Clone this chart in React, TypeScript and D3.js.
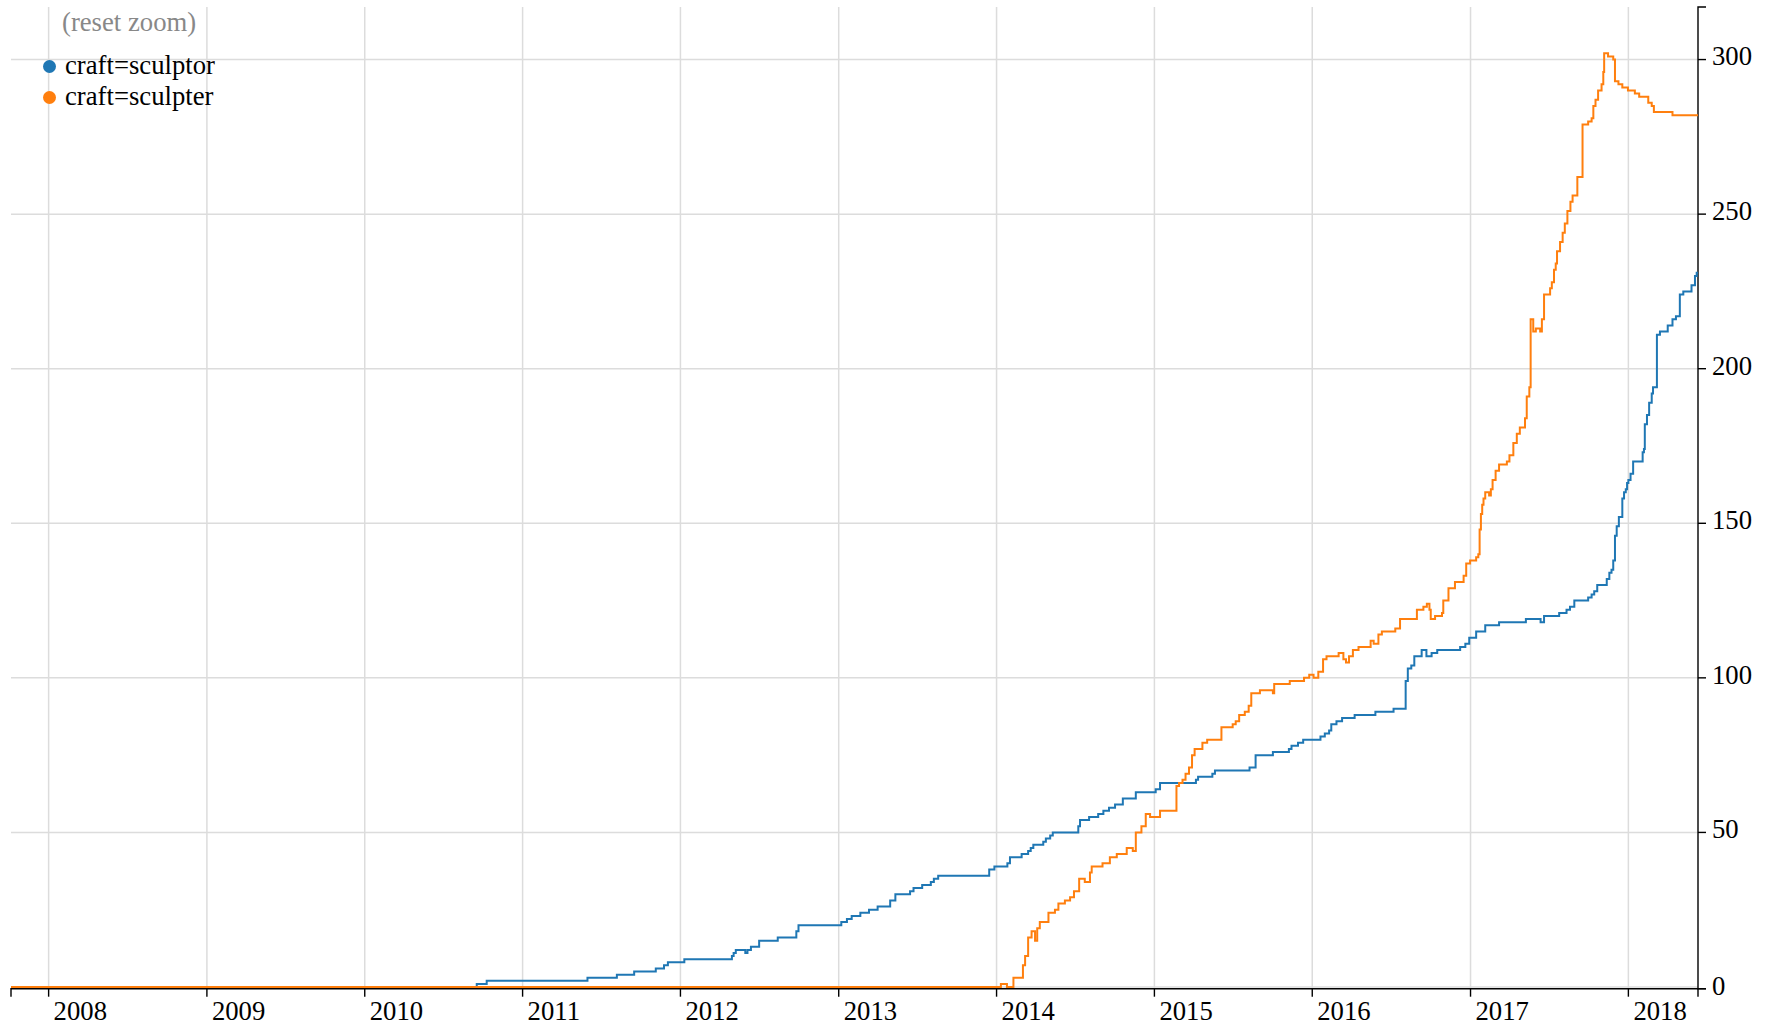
import React from 'react';
import * as d3 from 'd3';

const sculptorDates = [
  '2007-10-06', '2010-09-17', '2010-10-10', '2011-05-31', '2011-08-07', '2011-09-16', '2011-11-05', '2011-11-24',
  '2011-12-03', '2012-01-10', '2012-04-29', '2012-05-03', '2012-05-08', '2012-05-30', '2012-06-04', '2012-06-12',
  '2012-07-01', '2012-08-13', '2012-09-25', '2012-09-30', '2013-01-07', '2013-01-20', '2013-01-31', '2013-02-20',
  '2013-03-12', '2013-04-01', '2013-04-30', '2013-05-12', '2013-06-15', '2013-06-23', '2013-07-13', '2013-08-02',
  '2013-08-09', '2013-08-19', '2013-12-15', '2013-12-27', '2014-01-26', '2014-02-01', '2014-02-28', '2014-03-15',
  '2014-03-21', '2014-03-27', '2014-04-19', '2014-04-25', '2014-05-05', '2014-05-11', '2014-07-09', '2014-07-13',
  '2014-08-03', '2014-08-24', '2014-09-05', '2014-09-18', '2014-10-02', '2014-10-20', '2014-11-19', '2015-01-04',
  '2015-01-14', '2015-04-07', '2015-04-12', '2015-05-15', '2015-05-21', '2015-08-09', '2015-08-23', '2015-10-02',
  '2015-11-08', '2015-11-14', '2015-11-29', '2015-12-11', '2016-01-20', '2016-01-30', '2016-02-09', '2016-02-14',
  '2016-02-26', '2016-03-10', '2016-04-08', '2016-05-26', '2016-07-07', '2016-08-04', '2016-08-09', '2016-08-17',
  '2016-08-24', '2016-09-10', '2016-09-21', '2016-10-03', '2016-10-16', '2016-12-08', '2016-12-20', '2016-12-29',
  '2017-01-14', '2017-02-04', '2017-03-08', '2017-05-09', '2017-06-12', '2017-06-20', '2017-07-25', '2017-08-11',
  '2017-08-19', '2017-08-29', '2017-09-30', '2017-10-08', '2017-10-14', '2017-10-21', '2017-11-12', '2017-11-18',
  '2017-11-23', '2017-11-27', '2017-12-01', '2017-12-05', '2017-12-10', '2017-12-18', '2017-12-22', '2017-12-26',
  '2017-12-29', '2018-01-01', '2018-01-06', '2018-01-12', '2018-02-03', '2018-02-06', '2018-02-08', '2018-02-13',
  '2018-02-18', '2018-02-24', '2018-02-27', '2018-03-08', '2018-03-15', '2018-04-02', '2018-04-13', '2018-04-21',
  '2018-04-30', '2018-05-08', '2018-05-27', '2018-06-04', '2018-06-08', '2018-06-11',
];
const sculptorValues = [
  0, 1, 2, 3, 4, 5, 6, 7,
  8, 9, 10, 11, 12, 11, 12, 13,
  15, 16, 18, 20, 21, 22, 23, 24,
  25, 26, 28, 30, 31, 32, 33, 34,
  35, 36, 38, 39, 40, 42, 43, 44,
  45, 46, 47, 48, 49, 50, 52, 54,
  55, 56, 57, 58, 59, 61, 63, 64,
  66, 67, 68, 69, 70, 71, 75, 76,
  77, 78, 79, 80, 81, 82, 83, 85,
  86, 87, 88, 89, 90, 99, 103, 104,
  107, 109, 107, 108, 109, 110, 111, 113,
  115, 117, 118, 119, 118, 120, 121, 122,
  123, 125, 126, 127, 128, 130, 132, 134,
  135, 138, 146, 149, 152, 158, 160, 161,
  163, 164, 166, 170, 173, 174, 182, 185,
  189, 192, 194, 211, 212, 214, 216, 217,
  224, 225, 227, 230, 231, 231,
];

const sculpterDates = [
  '2007-10-06', '2014-01-11', '2014-01-25', '2014-02-09', '2014-03-03', '2014-03-08', '2014-03-15', '2014-03-23',
  '2014-03-31', '2014-04-05', '2014-04-11', '2014-05-01', '2014-05-16', '2014-05-24', '2014-06-08', '2014-06-20',
  '2014-06-29', '2014-07-11', '2014-07-24', '2014-08-05', '2014-08-09', '2014-09-03', '2014-09-20', '2014-10-06',
  '2014-10-29', '2014-11-12', '2014-11-19', '2014-12-02', '2014-12-12', '2014-12-22', '2015-01-14', '2015-02-21',
  '2015-02-27', '2015-03-07', '2015-03-14', '2015-03-22', '2015-03-29', '2015-04-04', '2015-04-22', '2015-05-03',
  '2015-06-05', '2015-07-01', '2015-07-08', '2015-07-16', '2015-07-29', '2015-08-07', '2015-08-13', '2015-09-02',
  '2015-10-02', '2015-10-05', '2015-11-10', '2015-12-13', '2015-12-25', '2016-01-04', '2016-01-15', '2016-01-26',
  '2016-02-03', '2016-03-02', '2016-03-13', '2016-03-19', '2016-03-26', '2016-04-04', '2016-04-17', '2016-05-15',
  '2016-05-22', '2016-06-02', '2016-06-10', '2016-07-11', '2016-07-22', '2016-08-30', '2016-09-14', '2016-09-22',
  '2016-09-28', '2016-10-01', '2016-10-11', '2016-10-27', '2016-10-30', '2016-11-11', '2016-11-26', '2016-12-16',
  '2016-12-22', '2016-12-31', '2017-01-14', '2017-01-19', '2017-01-22', '2017-01-25', '2017-01-28', '2017-01-31',
  '2017-02-04', '2017-02-13', '2017-02-17', '2017-02-21', '2017-02-28', '2017-03-08', '2017-03-26', '2017-04-01',
  '2017-04-10', '2017-04-18', '2017-04-25', '2017-05-07', '2017-05-11', '2017-05-17', '2017-05-20', '2017-05-26',
  '2017-06-01', '2017-06-11', '2017-06-15', '2017-06-20', '2017-07-04', '2017-07-08', '2017-07-13', '2017-07-17',
  '2017-07-20', '2017-07-27', '2017-08-02', '2017-08-07', '2017-08-13', '2017-08-20', '2017-08-25', '2017-09-05',
  '2017-09-17', '2017-09-30', '2017-10-08', '2017-10-12', '2017-10-17', '2017-10-23', '2017-10-31', '2017-11-04',
  '2017-11-06', '2017-11-15', '2017-11-27', '2017-12-01', '2017-12-09', '2017-12-18', '2017-12-31', '2018-01-16',
  '2018-01-26', '2018-02-16', '2018-02-24', '2018-03-01', '2018-04-13', '2018-06-11',
];
const sculpterValues = [
  0, 1, 0, 3, 7, 10, 16, 18,
  15, 19, 21, 24, 25, 27, 28, 29,
  31, 35, 34, 37, 39, 40, 42, 43,
  45, 44, 50, 52, 56, 55, 57, 65,
  66, 67, 69, 71, 75, 77, 79, 80,
  84, 85, 86, 88, 89, 91, 95, 96,
  95, 98, 99, 100, 101, 100, 102, 106,
  107, 108, 106, 105, 107, 109, 110, 112,
  111, 114, 115, 116, 119, 122, 123, 124,
  122, 119, 120, 121, 125, 129, 131, 133,
  137, 138, 139, 140, 148, 153, 156, 158,
  160, 159, 161, 164, 167, 169, 170, 172,
  176, 179, 181, 184, 191, 194, 216, 212,
  213, 212, 216, 224, 226, 228, 232, 234,
  238, 241, 244, 247, 251, 254, 256, 262,
  279, 280, 281, 285, 287, 290, 292, 296,
  302, 301, 300, 293, 292, 291, 290, 289,
  288, 286, 285, 283, 282, 282,
];

const seriesNames = ['craft=sculptor', 'craft=sculpter'];
const seriesColors = ['#1f77b4', '#ff7f0e'];
const yTickValues = [0, 50, 100, 150, 200, 250, 300];
const xDomain = ['2007-10-06', '2018-06-11'];
const yMax = 317;

const FONT = '"Liberation Serif", "Times New Roman", serif';
const FS = 26.7;

export default function App() {
  const W = 1770;
  const H = 1029;
  const left = 11;
  const right = 1698;
  const top = 7;
  const bottom = 987;
  const axisY = 988.7;

  const parse = d3.timeParse('%Y-%m-%d');
  const x = d3.scaleTime().domain(xDomain.map((d) => parse(d) as Date)).range([left, right]);
  const y = d3.scaleLinear().domain([0, yMax]).range([bottom, top]);

  const series = [
    sculptorDates.map((d, i) => ({ date: parse(d) as Date, value: sculptorValues[i] })),
    sculpterDates.map((d, i) => ({ date: parse(d) as Date, value: sculpterValues[i] })),
  ];

  const line = d3
    .line<{ date: Date; value: number }>()
    .x((d) => x(d.date))
    .y((d) => y(d.value))
    .curve(d3.curveStepAfter);

  const xTicks = x.ticks(d3.timeYear.every(1) as d3.TimeInterval);
  const yearFmt = d3.timeFormat('%Y');

  return (
    <svg
      width={W}
      height={H}
      style={{ position: 'absolute', left: 0, top: 0, display: 'block', background: '#fff' }}
      fontFamily={FONT}
    >
      {/* grid */}
      <g stroke="#dcdcdc" strokeWidth={1.5}>
        {yTickValues.map((t) => (
          <line key={'gy' + t} x1={left} x2={right} y1={y(t)} y2={y(t)} />
        ))}
        {xTicks.map((t) => (
          <line key={'gx' + t.getTime()} x1={x(t)} x2={x(t)} y1={top} y2={axisY} />
        ))}
      </g>

      {/* x axis */}
      <g>
        <path
          d={`M${left},${axisY + 8}V${axisY}H${right}V${axisY + 8}`}
          fill="none"
          stroke="#000"
          strokeWidth={1.4}
        />
        {xTicks.map((t) => (
          <g key={'xt' + t.getTime()} transform={`translate(${x(t)},${axisY})`}>
            <line y2={8} stroke="#000" strokeWidth={1.4} />
            <text x={5} y={31.3} fontSize={FS} fill="#000" textAnchor="start">
              {yearFmt(t)}
            </text>
          </g>
        ))}
      </g>

      {/* y axis (right) */}
      <g>
        <path
          d={`M${right + 8},${top}H${right}V${axisY}H${right + 8}`}
          fill="none"
          stroke="#000"
          strokeWidth={1.4}
        />
        {yTickValues.map((t) => (
          <g key={'yt' + t} transform={`translate(${right},${t === 0 ? axisY : y(t)})`}>
            <line x2={8} stroke="#000" strokeWidth={1.4} />
            <text x={14} dy="0.22em" fontSize={FS} fill="#000" textAnchor="start">
              {t}
            </text>
          </g>
        ))}
      </g>

      {/* lines */}
      {series.map((s, i) => (
        <path key={i} d={line(s) || ''} fill="none" stroke={seriesColors[i]} strokeWidth={2} />
      ))}

      {/* reset zoom */}
      <text x={62} y={31} fontSize={FS} fill="#888">
        (reset zoom)
      </text>

      {/* legend */}
      {seriesNames.map((name, i) => (
        <g key={name} transform={`translate(0,${i * 31})`}>
          <circle cx={49.5} cy={66.5} r={6.5} fill={seriesColors[i]} />
          <text x={65} y={74} fontSize={FS} fill="#000">
            {name}
          </text>
        </g>
      ))}
    </svg>
  );
}
